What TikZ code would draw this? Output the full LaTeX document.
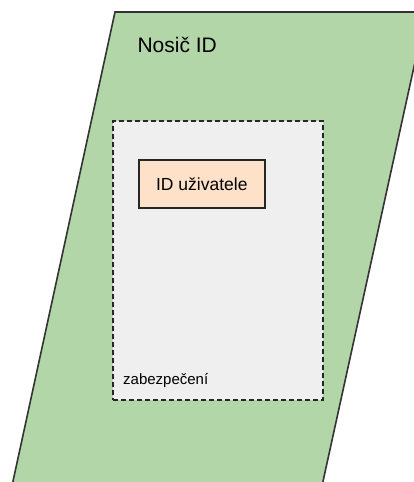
\documentclass[tikz,border=0pt]{standalone}
\usepackage{fontspec}
\setmainfont{Liberation Sans}
\usetikzlibrary{positioning}
\definecolor{carriergreen}{HTML}{B3D6A9}
\definecolor{securegray}{HTML}{EFEFEF}
\definecolor{idpeach}{HTML}{FDE2C9}
\begin{document}
\begin{tikzpicture}[x=1pt,y=-1pt]
	\tikzstyle{carrier}=[fill=carriergreen, draw={black!80}, line width=1.6pt]
	\tikzstyle{secure}=[fill=securegray, draw={black!85}, line width=2pt, dash pattern=on 5pt off 3pt, inner sep=0pt]
	\tikzstyle{idbox}=[fill=idpeach, draw={black!85}, line width=1.6pt, inner sep=0pt, font=\fontsize{17.5}{20}\selectfont]
	\useasboundingbox (0,0) rectangle (414,482);
	\clip (0,0) rectangle (414,482);
	% nosic ID
	\coordinate (carrierTL) at (115,12);
	\coordinate (carrierTR) at (426,12);
	\coordinate (carrierBR) at (320,495);
	\coordinate (carrierBL) at (10,495);
	\draw[carrier] (carrierTL) -- (carrierTR) -- (carrierBR) -- (carrierBL) -- cycle;
	\node[anchor=base west, font=\fontsize{21}{24}\selectfont] (carrierLabel) at (134,52) {Nosič ID};
	% zabezpeceni
	\node[secure, minimum width=210pt, minimum height=279pt, anchor=north west] (secure) at (112,120) {};
	\node[anchor=base west, font=\fontsize{15}{18}\selectfont, inner sep=0pt] (secureLabel) at (123,384) {zabezpečení};
	% ID uzivatele
	\node[idbox, minimum width=126pt, minimum height=48pt, anchor=north west] (userId) at (138,159) {ID uživatele};
\end{tikzpicture}
\end{document}
